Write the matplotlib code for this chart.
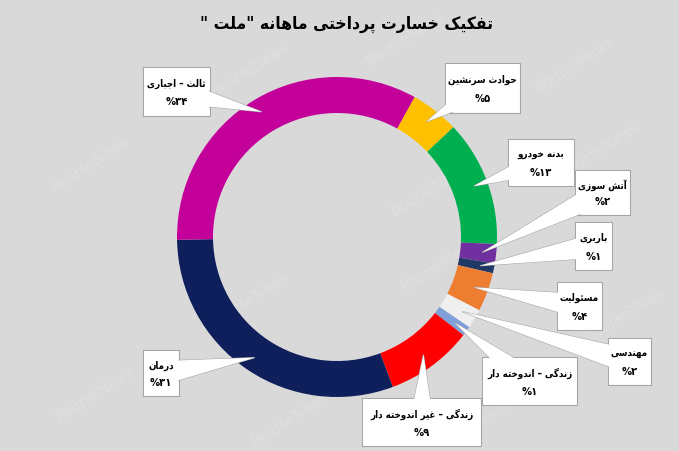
import matplotlib
matplotlib.use("Agg")
import matplotlib.pyplot as plt
from matplotlib.patches import Rectangle, Polygon
import numpy as np

# ---------------- data ----------------
categories = ["حوادث سرنشین", "بدنه خودرو", "آتش سوزی", "باربری", "مسئولیت",
              "مهندسی", "زندگی – اندوخته دار", "زندگی – غیر اندوخته دار",
              "درمان", "ثالث – اجباری"]
values = [5, 13, 2, 1, 4, 2, 1, 9, 31, 34]
pct_labels = ["۵", "۱۳", "۲", "۱", "۴", "۲", "۱", "۹", "۳۱", "۳۴"]
title_text = 'تفکیک خسارت پرداختی ماهانه "ملت "'
colors = ["#FFC000", "#00B050", "#7030A0", "#1F3864", "#ED7D31",
          "#EFEFEF", "#7F9FD8", "#FF0000", "#0E1F5B", "#C4009B"]

# ---------------- simple Arabic/Persian shaping ----------------
FORMS = {
    'ا': ('\uFE8D', '\uFE8E', None, None),
    'آ': ('\uFE81', '\uFE82', None, None),
    'ب': ('\uFE8F', '\uFE90', '\uFE91', '\uFE92'),
    'پ': ('\uFB56', '\uFB57', '\uFB58', '\uFB59'),
    'ت': ('\uFE95', '\uFE96', '\uFE97', '\uFE98'),
    'ث': ('\uFE99', '\uFE9A', '\uFE9B', '\uFE9C'),
    'ج': ('\uFE9D', '\uFE9E', '\uFE9F', '\uFEA0'),
    'ح': ('\uFEA1', '\uFEA2', '\uFEA3', '\uFEA4'),
    'خ': ('\uFEA5', '\uFEA6', '\uFEA7', '\uFEA8'),
    'د': ('\uFEA9', '\uFEAA', None, None),
    'ر': ('\uFEAD', '\uFEAE', None, None),
    'ز': ('\uFEAF', '\uFEB0', None, None),
    'س': ('\uFEB1', '\uFEB2', '\uFEB3', '\uFEB4'),
    'ش': ('\uFEB5', '\uFEB6', '\uFEB7', '\uFEB8'),
    'غ': ('\uFECD', '\uFECE', '\uFECF', '\uFED0'),
    'ف': ('\uFED1', '\uFED2', '\uFED3', '\uFED4'),
    'ک': ('\uFB8E', '\uFB8F', '\uFB90', '\uFB91'),
    'گ': ('\uFB92', '\uFB93', '\uFB94', '\uFB95'),
    'ل': ('\uFEDD', '\uFEDE', '\uFEDF', '\uFEE0'),
    'م': ('\uFEE1', '\uFEE2', '\uFEE3', '\uFEE4'),
    'ن': ('\uFEE5', '\uFEE6', '\uFEE7', '\uFEE8'),
    'ه': ('\uFEE9', '\uFEEA', '\uFEEB', '\uFEEC'),
    'و': ('\uFEED', '\uFEEE', None, None),
    'ی': ('\uFBFC', '\uFBFD', '\uFBFE', '\uFBFF'),
    'ئ': ('\uFE89', '\uFE8A', '\uFE8B', '\uFE8C'),
}


def shape(s):
    out = []
    n = len(s)
    for i, c in enumerate(s):
        if c not in FORMS:
            out.append(c)
            continue
        prev = s[i - 1] if i > 0 else None
        nxt = s[i + 1] if i + 1 < n else None
        jp = prev in FORMS and FORMS[prev][2] is not None
        jn = nxt in FORMS and FORMS[c][2] is not None
        iso, fin, ini, med = FORMS[c]
        if jp and jn:
            out.append(med)
        elif jp:
            out.append(fin)
        elif jn:
            out.append(ini)
        else:
            out.append(iso)
    return ''.join(out)[::-1]


# ---------------- figure in pixel coords ----------------
W, H = 679, 451
BG = "#D9D9D9"
fig = plt.figure(figsize=(W / 100, H / 100), dpi=100, facecolor=BG)
ax = fig.add_axes([0, 0, 1, 1])
ax.set_facecolor(BG)


def P(x, y):
    return (x, H - y)


# watermark
for (wx, wy) in [(90, 165), (250, 70), (405, 40), (575, 65), (430, 190),
                 (440, 265), (250, 300), (95, 395), (600, 150), (515, 400),
                 (290, 420), (625, 315)]:
    ax.text(*P(wx, wy), "BourseNews", rotation=32, ha="center", va="center",
            fontsize=10, family="DejaVu Serif", color="#E0E0E0", zorder=1)

cx, cy, R, RW = 337, 237, 160, 36
start = 61  # degrees (matplotlib convention)
wedges, _ = ax.pie(values, colors=colors, startangle=start, counterclock=False,
                   radius=R, center=P(cx, cy),
                   wedgeprops=dict(width=RW, edgecolor="none", linewidth=0))
for w in wedges:
    w.set_zorder(2)

# callout boxes (x0, y0, x1, y1) in pixel coords (top-left origin)
boxes = [(445, 63, 520, 113), (508, 139, 574, 186), (575, 170, 630, 215),
         (575, 222, 612, 270), (557, 282, 602, 330), (608, 338, 651, 385),
         (482, 357, 577, 405), (362, 398, 481, 446), (143, 350, 179, 396),
         (143, 67, 210, 116)]

FONT = dict(family="DejaVu Sans", fontstretch="condensed", fontweight="bold",
            color="black")

total = float(sum(values))
ang = start
tip_r = R - 14
for i, (v, box) in enumerate(zip(values, boxes)):
    mid = ang - v / total * 360 / 2
    ang -= v / total * 360
    tx = cx + tip_r * np.cos(np.radians(mid))
    ty = H - cy + tip_r * np.sin(np.radians(mid))
    x0, y0, x1, y1 = box
    bx, by = P((x0 + x1) / 2, (y0 + y1) / 2)
    dx, dy = tx - bx, ty - by
    L = np.hypot(dx, dy)
    px, py = -dy / L, dx / L
    hw = 12
    tri = [(bx + px * hw, by + py * hw), (bx - px * hw, by - py * hw), (tx, ty)]
    rect_kw = dict(xy=P(x0, y1), width=x1 - x0, height=y1 - y0)
    ax.add_patch(Rectangle(**rect_kw, facecolor="white", edgecolor="#A6A6A6",
                           linewidth=0.8, zorder=5))
    ax.add_patch(Polygon(tri, closed=True, facecolor="white", edgecolor="#A6A6A6",
                         linewidth=0.8, zorder=6))
    ax.add_patch(Rectangle(xy=P(x0 + 0.6, y1 - 0.6), width=x1 - x0 - 1.2,
                           height=y1 - y0 - 1.2, facecolor="white",
                           edgecolor="none", zorder=7))
    ax.add_patch(Polygon(tri, closed=True, facecolor="white", edgecolor="none",
                         zorder=8))
    h = y1 - y0
    ax.text(*P((x0 + x1) / 2, y0 + 0.34 * h), shape(categories[i]),
            ha="center", va="center", fontsize=7, zorder=9, **FONT)
    ax.text(*P((x0 + x1) / 2, y0 + 0.72 * h), "%" + pct_labels[i],
            ha="center", va="center", fontsize=8, zorder=9, **FONT)

ax.text(*P(347, 24), shape(title_text), ha="center", va="center",
        fontsize=12.5, zorder=9, **FONT)

ax.set_xlim(0, W)
ax.set_ylim(0, H)
ax.set_aspect("equal")
ax.axis("off")
fig.savefig("out.png", dpi=100, facecolor=BG)
